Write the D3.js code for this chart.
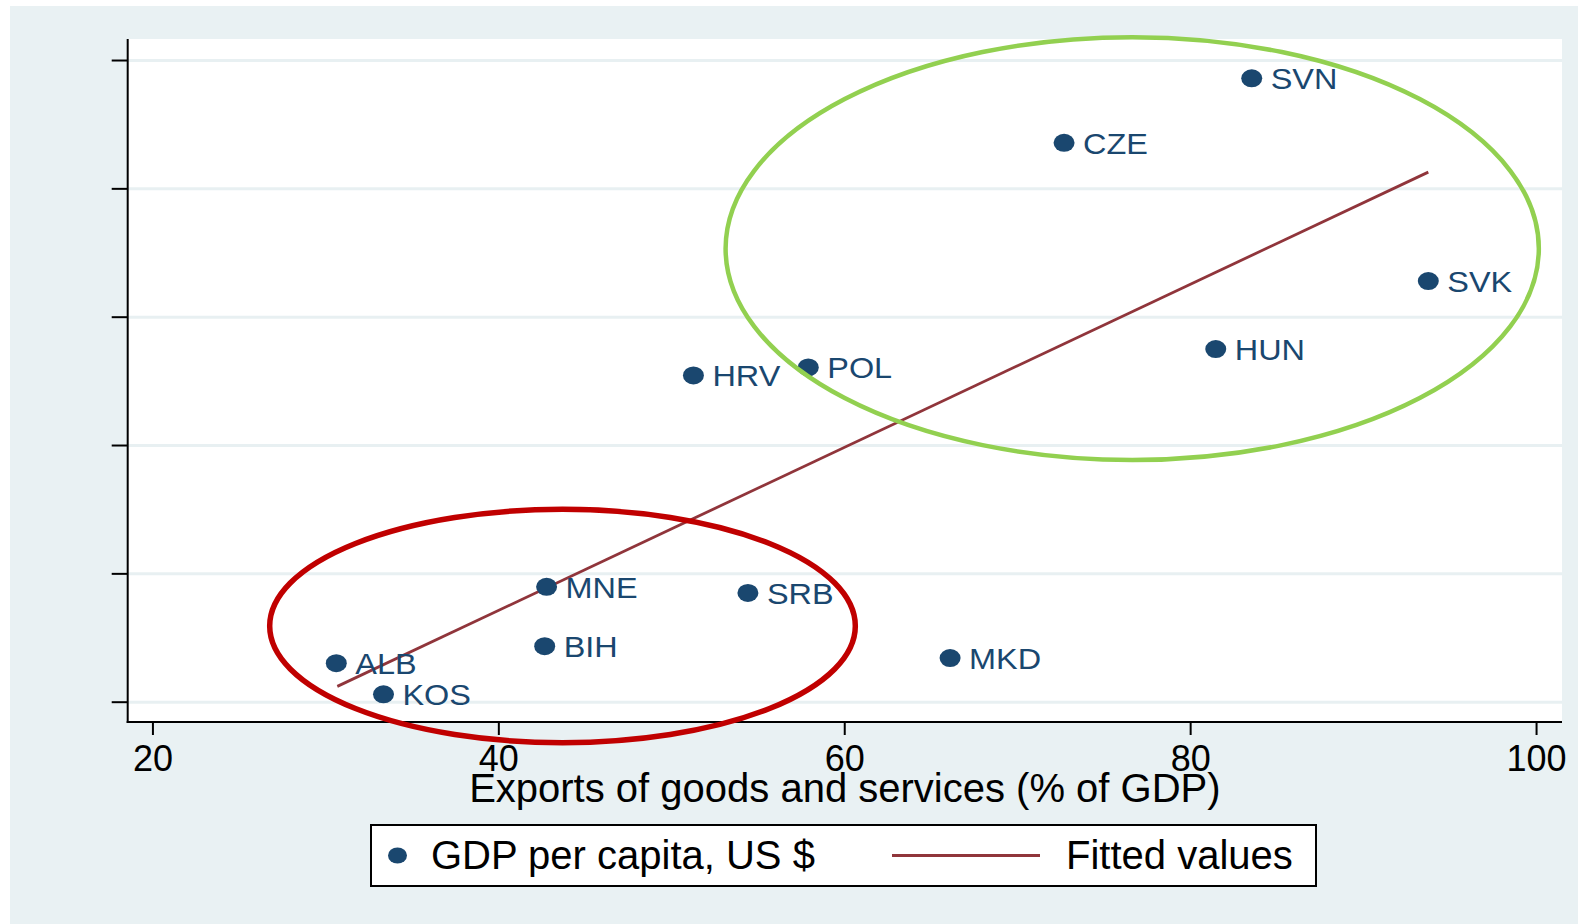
<!DOCTYPE html>
<html>
<head>
  <meta charset="utf-8" />
  <script src="https://d3js.org/d3.v7.min.js"></script>
  <style>
    body { margin: 0; background: #ffffff; }
    text { font-family: "Liberation Sans", Arial, sans-serif; }
    .grid line { stroke: #e8f0f2; stroke-width: 3px; }
    .grid path { stroke-width: 0; }
    .axis path { display: none; }
    .axis line { stroke: #000; stroke-width: 2px; }
    .axis text { fill: #000; font-size: 36px; }
  </style>
</head>
<body>
  <svg width="1578" height="924"></svg>
  <script>

    // country codes, exports (% of GDP), GDP per capita (US $)
    var countries = ["SVN", "CZE", "SVK", "HUN", "POL", "HRV", "MNE", "SRB", "BIH", "MKD", "ALB", "KOS"];
    var exportsPct = [83.56, 72.71, 93.77, 81.48, 57.92, 51.28, 42.79, 54.43, 42.68, 66.12, 30.63, 33.36];
    var gdpPerCap = [23430, 21420, 17110, 14990, 14420, 14170, 7580, 7390, 5730, 5360, 5200, 4230];

    // fitted values line (two end points)
    var fitX = [30.69, 93.77];
    var fitY = [4477, 20506];

    // tick values
    var xTicks = [20, 40, 60, 80, 100];
    var yTicks = [4000, 8000, 12000, 16000, 20000, 24000];

    // highlight ellipses (centre and radii in data units)
    var ringNames = ["high", "low"];
    var ringCx = [76.65, 43.71];
    var ringCy = [18122, 6359];
    var ringRx = [23.51, 16.93];
    var ringRy = [6589, 3637];
    var ringColors = ["#92d050", "#c00000"];

    var svg = d3.select("svg"),
    plot = {left: 127.7, right: 1562, top: 39, bottom: 722};

    // outer background
    svg.append("rect")
    .attr("x", 10)
    .attr("y", 6)
    .attr("width", 1578 - 10)
    .attr("height", 924 - 6)
    .attr("fill", "#e9f1f3");

    // plot region
    svg.append("rect")
    .attr("x", plot.left)
    .attr("y", plot.top)
    .attr("width", plot.right - plot.left)
    .attr("height", plot.bottom - plot.top)
    .attr("fill", "#ffffff");

    //set scales
    var x = d3.scaleLinear().domain([18.57, 101.5]).range([plot.left, plot.right]),
    y = d3.scaleLinear().domain([3367, 24655]).range([plot.bottom, plot.top]);

    var rows = countries.map(function(c, i) {
      return {id: c, exp: exportsPct[i], gdp: gdpPerCap[i]};
    });

    // gridlines
    svg.append("g")
    .attr("class", "grid")
    .attr("transform", "translate(" + plot.left + ",0)")
    .call(d3.axisRight(y).tickValues(yTicks).tickSize(plot.right - plot.left).tickFormat(""));

    // y axis (ticks, no labels)
    svg.append("g")
    .attr("class", "axis axis--y")
    .attr("transform", "translate(" + plot.left + ",0)")
    .call(d3.axisLeft(y).tickValues(yTicks).tickSize(16).tickFormat(""));

    // x axis
    svg.append("g")
    .attr("class", "axis axis--x")
    .attr("transform", "translate(0," + plot.bottom + ")")
    .call(d3.axisBottom(x).tickValues(xTicks).tickSize(13).tickPadding(10).tickFormat(d3.format("d")));

    // axis lines
    svg.append("line")
    .attr("x1", plot.left).attr("x2", plot.left)
    .attr("y1", plot.top).attr("y2", plot.bottom + 1)
    .attr("stroke", "#000").attr("stroke-width", 2);

    svg.append("line")
    .attr("x1", plot.left - 1).attr("x2", plot.right)
    .attr("y1", plot.bottom).attr("y2", plot.bottom)
    .attr("stroke", "#000").attr("stroke-width", 2);

    // x axis title
    svg.append("text")
    .attr("x", (plot.left + plot.right) / 2)
    .attr("y", 802)
    .attr("text-anchor", "middle")
    .style("font-size", "40px")
    .attr("fill", "#000")
    .text("Exports of goods and services (% of GDP)");

    // fitted line
    var line = d3.line()
    .x(function(d) { return x(d[0]); })
    .y(function(d) { return y(d[1]); });

    svg.append("path")
    .datum(fitX.map(function(v, i) { return [v, fitY[i]]; }))
    .attr("d", line)
    .attr("fill", "none")
    .attr("stroke", "#90353b")
    .attr("stroke-width", 2.8);

    // points
    var pts = svg.selectAll(".pt")
    .data(rows)
    .enter().append("g")
    .attr("class", "pt");

    pts.append("ellipse")
    .attr("cx", function(d) { return x(d.exp); })
    .attr("cy", function(d) { return y(d.gdp); })
    .attr("rx", 10.5)
    .attr("ry", 9)
    .attr("fill", "#1a476f");

    pts.append("text")
    .attr("transform", function(d) { return "translate(" + (x(d.exp) + 19) + "," + (y(d.gdp) + 11) + ") scale(1.08,1)"; })
    .style("font-size", "30px")
    .attr("fill", "#1a476f")
    .text(function(d) { return d.id; });

    // highlight ellipses
    svg.selectAll(".ring")
    .data(ringNames)
    .enter().append("ellipse")
    .attr("class", "ring")
    .attr("cx", function(d, i) { return x(ringCx[i]); })
    .attr("cy", function(d, i) { return y(ringCy[i]); })
    .attr("rx", function(d, i) { return x(ringCx[i] + ringRx[i]) - x(ringCx[i]); })
    .attr("ry", function(d, i) { return y(ringCy[i]) - y(ringCy[i] + ringRy[i]); })
    .attr("fill", "none")
    .attr("stroke", function(d, i) { return ringColors[i]; })
    .attr("stroke-width", function(d, i) { return i === 0 ? 4.5 : 5.5; });

    // legend
    var legend = svg.append("g").attr("class", "legend");

    legend.append("rect")
    .attr("x", 371)
    .attr("y", 825)
    .attr("width", 945)
    .attr("height", 61)
    .attr("fill", "#ffffff")
    .attr("stroke", "#000")
    .attr("stroke-width", 2);

    legend.append("ellipse")
    .attr("cx", 397.5)
    .attr("cy", 855.5)
    .attr("rx", 9.5)
    .attr("ry", 8)
    .attr("fill", "#1a476f");

    legend.append("text")
    .attr("x", 431)
    .attr("y", 869)
    .style("font-size", "40px")
    .attr("fill", "#000")
    .text("GDP per capita, US $");

    legend.append("line")
    .attr("x1", 892).attr("x2", 1040)
    .attr("y1", 855.5).attr("y2", 855.5)
    .attr("stroke", "#90353b")
    .attr("stroke-width", 2.8);

    legend.append("text")
    .attr("x", 1066)
    .attr("y", 869)
    .style("font-size", "40px")
    .attr("fill", "#000")
    .text("Fitted values");

  </script>
</body>
</html>
